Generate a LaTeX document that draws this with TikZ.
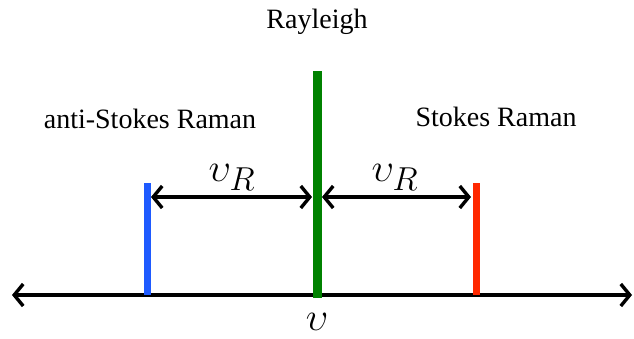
\documentclass[tikz,border=0pt]{standalone}
\usepackage{amsmath}
\usepackage{fontspec}
\setmainfont{Liberation Serif}
\usetikzlibrary{arrows.meta}
\begin{document}
\begin{tikzpicture}[x=1pt,y=-1pt,
  lbl/.style={font=\fontsize{28}{32}\selectfont, inner sep=0pt},
  mlbl/.style={font=\Huge, scale=1.6, inner sep=0pt},
  arr/.style={line width=3.4pt, {Straight Barb[length=9pt,width=22pt,line width=3.4pt]}-{Straight Barb[length=9pt,width=22pt,line width=3.4pt]}},
  bar/.style={line width=7pt}]
\useasboundingbox (0,0) rectangle (634,338);
\coordinate (axL) at (12,295);
\coordinate (axR) at (632,295);
\draw[arr] (axL) -- (axR);
\coordinate (gT) at (317,71); \coordinate (gB) at (317,298);
\coordinate (bT) at (147,183); \coordinate (bB) at (147,295);
\coordinate (rT) at (476,183); \coordinate (rB) at (476,295);
\draw[bar, draw={rgb,255:red,30;green,90;blue,255}] (bT) -- (bB);
\draw[bar, draw={rgb,255:red,255;green,40;blue,0}] (rT) -- (rB);
\draw[bar, line width=9pt, draw={rgb,255:red,0;green,130;blue,0}] (gT) -- (gB);
\coordinate (a1) at (151,197); \coordinate (a2) at (312,197);
\coordinate (a3) at (322,197); \coordinate (a4) at (471,197);
\draw[arr] (a1) -- (a2);
\draw[arr] (a3) -- (a4);
\node[lbl] (ray) at (317,22) {Rayleigh};
\node[lbl] (as) at (150,119) {anti-Stokes Raman};
\node[lbl] (st) at (496,117) {Stokes Raman};
\node[mlbl] (nu1) at (232,177) {$\upsilon_R$};
\node[mlbl] (nu2) at (395,177) {$\upsilon_R$};
\node[mlbl] (nu) at (317,322) {$\upsilon$};
\end{tikzpicture}
\end{document}
